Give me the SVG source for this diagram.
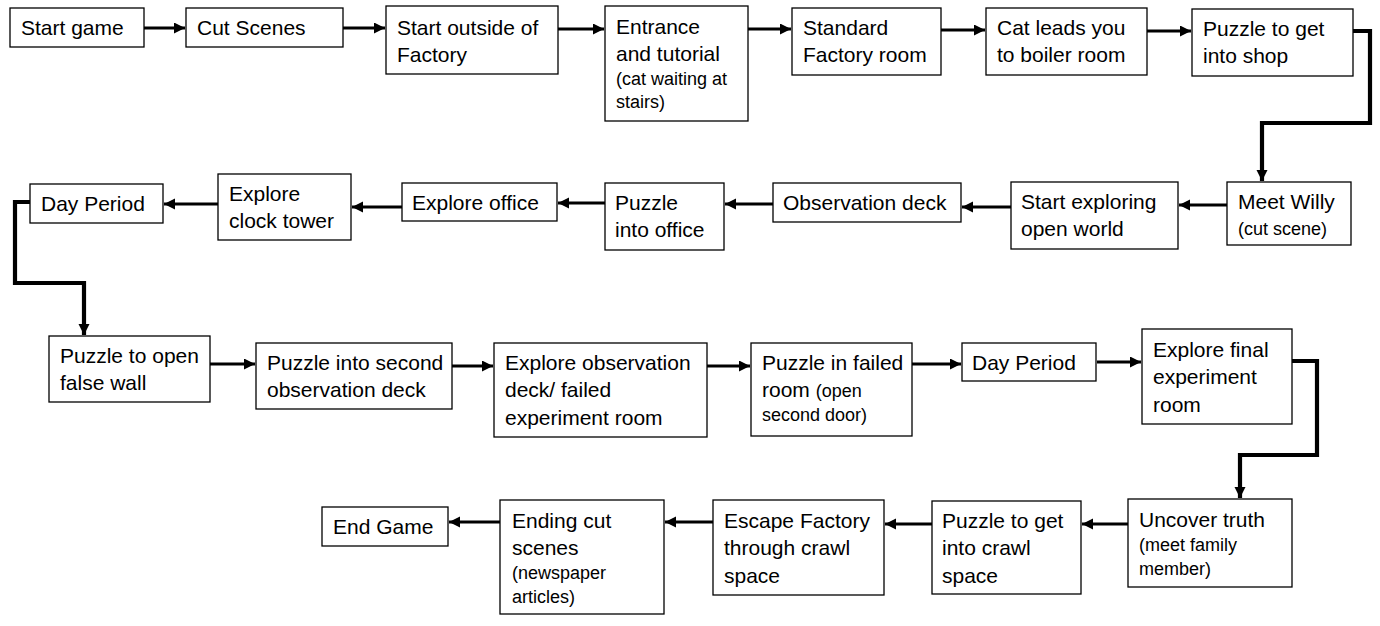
<svg xmlns="http://www.w3.org/2000/svg" width="1380" height="626" viewBox="0 0 1380 626">
<style>
.box{fill:#fff;stroke:#000;stroke-width:1.3}
text{font-family:"Liberation Sans",Arial,sans-serif;font-size:21px;fill:#000}
.s{font-size:18px}
.c{fill:none;stroke:#000;stroke-width:3.2}
.e{fill:none;stroke:#000;stroke-width:4.2}
</style>
<defs>
<marker id="ah" markerUnits="userSpaceOnUse" markerWidth="14" markerHeight="14" refX="11" refY="5.5" orient="auto">
<path d="M0,0 L11,5.5 L0,11 Z" fill="#000"/>
</marker>
</defs>
<rect width="1380" height="626" fill="#fff"/>

<g id="connectors">
<line class="c" x1="144" y1="28" x2="185" y2="28" marker-end="url(#ah)"/>
<line class="c" x1="343" y1="28" x2="385" y2="28" marker-end="url(#ah)"/>
<line class="c" x1="558" y1="29" x2="604" y2="29" marker-end="url(#ah)"/>
<line class="c" x1="748" y1="29" x2="791" y2="29" marker-end="url(#ah)"/>
<line class="c" x1="941" y1="30" x2="985" y2="30" marker-end="url(#ah)"/>
<line class="c" x1="1147" y1="31" x2="1191" y2="31" marker-end="url(#ah)"/>
<path class="e" d="M1353,31 H1370 V123 H1262 V181" marker-end="url(#ah)"/>
<line class="c" x1="1227" y1="205" x2="1179" y2="205" marker-end="url(#ah)"/>
<line class="c" x1="1011" y1="207" x2="962" y2="207" marker-end="url(#ah)"/>
<line class="c" x1="773" y1="204" x2="725" y2="204" marker-end="url(#ah)"/>
<line class="c" x1="605" y1="203" x2="558" y2="203" marker-end="url(#ah)"/>
<line class="c" x1="402" y1="207" x2="352" y2="207" marker-end="url(#ah)"/>
<line class="c" x1="218" y1="204" x2="164" y2="204" marker-end="url(#ah)"/>
<path class="e" d="M30,202 H15 V283 H84 V335" marker-end="url(#ah)"/>
<line class="c" x1="210" y1="364" x2="255" y2="364" marker-end="url(#ah)"/>
<line class="c" x1="452" y1="366" x2="493" y2="366" marker-end="url(#ah)"/>
<line class="c" x1="707" y1="366" x2="750" y2="366" marker-end="url(#ah)"/>
<line class="c" x1="912" y1="364" x2="961" y2="364" marker-end="url(#ah)"/>
<line class="c" x1="1097" y1="362" x2="1141" y2="362" marker-end="url(#ah)"/>
<path class="e" d="M1292,361 H1317 V455 H1240 V498" marker-end="url(#ah)"/>
<line class="c" x1="1128" y1="524" x2="1082" y2="524" marker-end="url(#ah)"/>
<line class="c" x1="932" y1="524" x2="885" y2="524" marker-end="url(#ah)"/>
<line class="c" x1="713" y1="522" x2="665" y2="522" marker-end="url(#ah)"/>
<line class="c" x1="500" y1="522" x2="449" y2="522" marker-end="url(#ah)"/>
</g>

<g id="n1"><rect class="box" x="10" y="8" width="134" height="39"/><text x="21" y="35">Start game</text></g>
<g id="n2"><rect class="box" x="186" y="8" width="157" height="39"/><text x="197" y="35">Cut Scenes</text></g>
<g id="n3"><rect class="box" x="386" y="6" width="172" height="68"/><text x="397" y="35">Start outside of</text><text x="397" y="62">Factory</text></g>
<g id="n4"><rect class="box" x="605" y="6" width="143" height="115"/><text x="616" y="34">Entrance</text><text x="616" y="61">and tutorial</text><text class="s" x="616" y="85">(cat waiting at</text><text class="s" x="616" y="108">stairs)</text></g>
<g id="n5"><rect class="box" x="792" y="8" width="149" height="67"/><text x="803" y="35">Standard</text><text x="803" y="62">Factory room</text></g>
<g id="n6"><rect class="box" x="986" y="8" width="161" height="67"/><text x="997" y="35">Cat leads you</text><text x="997" y="62">to boiler room</text></g>
<g id="n7"><rect class="box" x="1192" y="9" width="161" height="67"/><text x="1203" y="36">Puzzle to get</text><text x="1203" y="63">into shop</text></g>

<g id="n8"><rect class="box" x="1227" y="182" width="124" height="63"/><text x="1238" y="209">Meet Willy</text><text class="s" x="1238" y="235">(cut scene)</text></g>
<g id="n9"><rect class="box" x="1011" y="182" width="167" height="67"/><text x="1021" y="209">Start exploring</text><text x="1021" y="236">open world</text></g>
<g id="n10"><rect class="box" x="773" y="183" width="188" height="39"/><text x="783" y="210">Observation deck</text></g>
<g id="n11"><rect class="box" x="605" y="183" width="119" height="67"/><text x="615" y="210">Puzzle</text><text x="615" y="237">into office</text></g>
<g id="n12"><rect class="box" x="402" y="183" width="155" height="38"/><text x="412" y="210">Explore office</text></g>
<g id="n13"><rect class="box" x="218" y="174" width="133" height="66"/><text x="229" y="201">Explore</text><text x="229" y="228">clock tower</text></g>
<g id="n14"><rect class="box" x="30" y="184" width="133" height="39"/><text x="41" y="211">Day Period</text></g>

<g id="n15"><rect class="box" x="49" y="336" width="161" height="66"/><text x="60" y="363">Puzzle to open</text><text x="60" y="390">false wall</text></g>
<g id="n16"><rect class="box" x="256" y="343" width="196" height="66"/><text x="267" y="370">Puzzle into second</text><text x="267" y="397">observation deck</text></g>
<g id="n17"><rect class="box" x="494" y="343" width="213" height="94"/><text x="505" y="370">Explore observation</text><text x="505" y="397">deck/ failed</text><text x="505" y="425">experiment room</text></g>
<g id="n18"><rect class="box" x="751" y="343" width="161" height="93"/><text x="762" y="370">Puzzle in failed</text><text x="762" y="397">room <tspan class="s">(open</tspan></text><text class="s" x="762" y="421">second door)</text></g>
<g id="n19"><rect class="box" x="962" y="343" width="134" height="38"/><text x="972" y="370">Day Period</text></g>
<g id="n20"><rect class="box" x="1142" y="329" width="150" height="95"/><text x="1153" y="357">Explore final</text><text x="1153" y="384">experiment</text><text x="1153" y="412">room</text></g>

<g id="n21"><rect class="box" x="1128" y="499" width="164" height="88"/><text x="1139" y="527">Uncover truth</text><text class="s" x="1139" y="551">(meet family</text><text class="s" x="1139" y="575">member)</text></g>
<g id="n22"><rect class="box" x="932" y="501" width="149" height="93"/><text x="942" y="528">Puzzle to get</text><text x="942" y="555">into crawl</text><text x="942" y="583">space</text></g>
<g id="n23"><rect class="box" x="713" y="500" width="171" height="95"/><text x="724" y="528">Escape Factory</text><text x="724" y="555">through crawl</text><text x="724" y="583">space</text></g>
<g id="n24"><rect class="box" x="500" y="500" width="164" height="114"/><text x="512" y="528">Ending cut</text><text x="512" y="555">scenes</text><text class="s" x="512" y="579">(newspaper</text><text class="s" x="512" y="603">articles)</text></g>
<g id="n25"><rect class="box" x="322" y="507" width="126" height="39"/><text x="333" y="534">End Game</text></g>
</svg>
